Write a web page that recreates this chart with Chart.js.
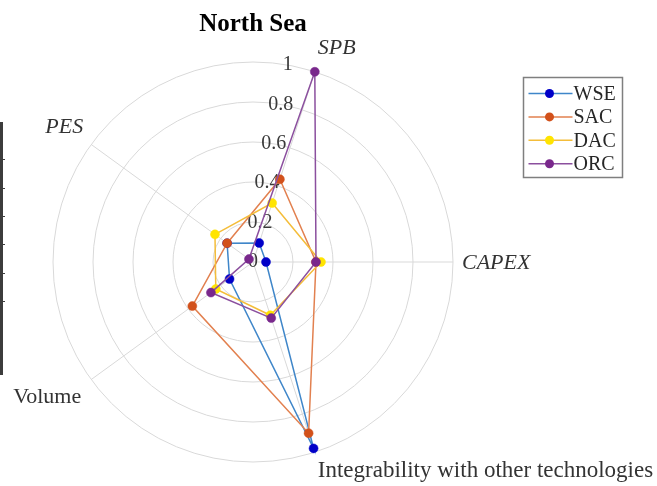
<!DOCTYPE html>
<html>
<head>
<meta charset="utf-8">
<script src="https://cdn.jsdelivr.net/npm/chart.js@4/dist/chart.umd.min.js"></script>
<style>
  html, body { margin: 0; padding: 0; background: #fff; }
  #wrap { position: relative; width: 657px; height: 486px; }
  #frame { position: absolute; left: 0; top: 122px; width: 3px; height: 253px; background: #3c3c3c; }
  .tk { position: absolute; left: 3px; width: 2px; height: 1px; background: #3c3c3c; }
</style>
</head>
<body>
<div id="wrap">
  <canvas id="c" width="657" height="486"></canvas>
  <div id="frame"></div>
  <div class="tk" style="top:159px"></div>
  <div class="tk" style="top:188px"></div>
  <div class="tk" style="top:216px"></div>
  <div class="tk" style="top:244px"></div>
  <div class="tk" style="top:273px"></div>
  <div class="tk" style="top:301px"></div>
</div>
<script>
// Radar axes, in drawing order (first axis sits 18° clockwise from the top)
const categories = ['SPB', 'CAPEX', 'Integrability with other technologies', 'Volume', 'PES'];
const seriesNames = ['WSE', 'SAC', 'DAC', 'ORC'];

// Normalised scores per technology
const wse = [0.10, 0.065, 0.98, 0.145, 0.16];
const sac = [0.435, 0.315, 0.90, 0.375, 0.16];
const dac = [0.31, 0.34, 0.28, 0.23, 0.235];
const orc = [1.00, 0.315, 0.295, 0.26, 0.025];

// Radial tick labels
const tickValues = [0, 0.2, 0.4, 0.6, 0.8, 1];
const tickLabels = ['0', '0.2', '0.4', '0.6', '0.8', '1'];

const lineColors  = ['#3f86c9', '#e2804f', '#f4bd3a', '#8b4f9e'];
const markColors  = ['#0000c8', '#d2511b', '#ffe400', '#79288c'];
const seriesData  = [wse, sac, dac, orc];

const SERIF = '"Liberation Serif", "Times New Roman", serif';

// Axis label placement relative to the outer end of each spoke
const axisLabelStyle = [
  { italic: true,  size: 22, dx: 3,   dy: -24, align: 'left'  },
  { italic: true,  size: 22, dx: 9,   dy: 1,   align: 'left'  },
  { italic: false, size: 23, dx: 3,   dy: 19,  align: 'left'  },
  { italic: false, size: 22, dx: -10, dy: 18,  align: 'right' },
  { italic: true,  size: 22, dx: -8,  dy: -17, align: 'right' }
];

const radarText = {
  id: 'radarText',
  beforeDatasetsDraw(chart) {
    const s = chart.scales.r;
    const ctx = chart.ctx;
    const a = 10 * Math.PI / 180;
    ctx.save();
    ctx.font = '20px ' + SERIF;
    ctx.fillStyle = '#3a3a3a';
    ctx.textAlign = 'center';
    ctx.textBaseline = 'middle';
    tickValues.forEach((v, i) => {
      const d = s.getDistanceFromCenterForValue(v);
      ctx.fillText(tickLabels[i], s.xCenter + d * Math.sin(a), s.yCenter - d * Math.cos(a));
    });
    ctx.restore();
  },
  afterDraw(chart) {
    const s = chart.scales.r;
    const ctx = chart.ctx;
    ctx.save();
    ctx.fillStyle = '#333333';
    ctx.textBaseline = 'middle';
    categories.forEach((name, i) => {
      const st = axisLabelStyle[i];
      const p = s.getPointPosition(i, s.drawingArea);
      ctx.font = (st.italic ? 'italic ' : '') + st.size + 'px ' + SERIF;
      ctx.textAlign = st.align;
      ctx.fillText(name, p.x + st.dx, p.y + st.dy);
    });

    // Legend box
    const bx = 523.5, by = 77.5, bw = 99, bh = 100;
    ctx.fillStyle = '#ffffff';
    ctx.fillRect(bx, by, bw, bh);
    ctx.strokeStyle = '#7f7f7f';
    ctx.lineWidth = 1.5;
    ctx.strokeRect(bx, by, bw, bh);
    ctx.font = '20px ' + SERIF;
    ctx.textAlign = 'left';
    chart.data.datasets.forEach((ds, i) => {
      const y = by + 16 + i * 23.4;
      ctx.strokeStyle = ds.borderColor;
      ctx.lineWidth = 1.5;
      ctx.beginPath();
      ctx.moveTo(bx + 5, y);
      ctx.lineTo(bx + 49, y);
      ctx.stroke();
      ctx.fillStyle = ds.pointBackgroundColor;
      ctx.beginPath();
      ctx.arc(bx + 26, y, 4.5, 0, Math.PI * 2);
      ctx.fill();
      ctx.fillStyle = '#262626';
      ctx.fillText(ds.label, bx + 50, y + 1);
    });
    ctx.restore();
  }
};

new Chart(document.getElementById('c'), {
  type: 'radar',
  data: {
    labels: categories,
    datasets: seriesNames.map((name, i) => ({
      label: name,
      data: seriesData[i],
      borderColor: lineColors[i],
      backgroundColor: lineColors[i],
      pointBackgroundColor: markColors[i],
      pointBorderColor: markColors[i],
      borderWidth: 1.5,
      pointRadius: 4.5,
      pointBorderWidth: 0.5,
      fill: false,
      tension: 0,
      order: seriesNames.length - i
    }))
  },
  options: {
    responsive: false,
    animation: false,
    layout: { padding: { left: 53, right: 204, top: 0, bottom: 24 } },
    scales: {
      r: {
        min: 0,
        max: 1,
        startAngle: 18,
        ticks: { display: false, stepSize: 0.2 },
        grid: { circular: true, color: '#d9d9d9', lineWidth: 1 },
        angleLines: { color: '#d9d9d9', lineWidth: 1 },
        pointLabels: { display: false }
      }
    },
    plugins: {
      legend: { display: false },
      tooltip: { enabled: false },
      title: {
        display: true,
        text: 'North Sea',
        color: '#000',
        font: { family: SERIF, size: 25, weight: 'bold' },
        padding: { top: 10, bottom: 22 }
      }
    }
  },
  plugins: [radarText]
});
</script>
</body>
</html>
